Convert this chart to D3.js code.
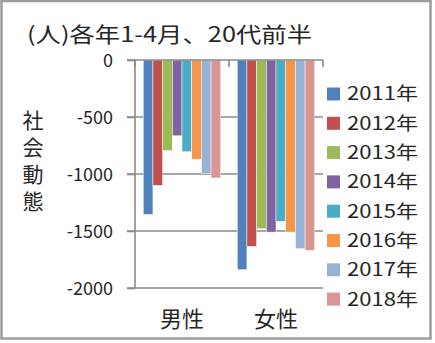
<!DOCTYPE html>
<html>
<head>
<meta charset="utf-8">
<script src="https://cdnjs.cloudflare.com/ajax/libs/d3/7.8.5/d3.min.js"></script>
<style>
  html, body { margin: 0; padding: 0; background: #fff; }
  svg { display: block; }
  text { font-family: "Noto Sans CJK JP", "Noto Sans", sans-serif; fill: #262626; }
</style>
</head>
<body>
<svg id="chart" width="435" height="343"></svg>
<script>
// 20代前半の社会動態（各年1-4月）
const categories = ["男性", "女性"];
const years = ["2011年", "2012年", "2013年", "2014年", "2015年", "2016年", "2017年", "2018年"];
const maleValues = [-1355, -1100, -795, -665, -805, -870, -995, -1035];
const femaleValues = [-1840, -1635, -1480, -1510, -1415, -1510, -1655, -1670];
const yTicks = [0, -500, -1000, -1500, -2000];
const colors = ["#4F81BD", "#C0504D", "#9BBB59", "#8064A2", "#4BACC6", "#F79646", "#95B3D7", "#D99694"];
const titleText = "(人)各年1-4月、20代前半";
const yAxisTitle = "社会動態";

const rows = categories.map((c, i) => ({
  category: c,
  values: years.map((y, j) => ({ year: y, value: (i === 0 ? maleValues : femaleValues)[j] }))
}));

const svg = d3.select("#chart");
const plot = { left: 135, right: 323, top: 60, bottom: 288 };

const x0 = d3.scaleBand().domain(categories).range([plot.left, plot.right]).paddingInner(0).paddingOuter(0);
const x1 = d3.scaleBand().domain(years).range([0, x0.bandwidth()]).paddingOuter(0.85).paddingInner(0);
const y = d3.scaleLinear().domain([-2000, 0]).range([plot.bottom, plot.top]);
const color = d3.scaleOrdinal().domain(years).range(colors);

// outer frame
svg.append("rect")
  .attr("x", 1.5).attr("y", 1).attr("width", 429).attr("height", 337.5)
  .attr("fill", "#fff").attr("stroke", "#9c9c9c").attr("stroke-width", 2.5);

// gridlines
svg.append("g").selectAll("line")
  .data(yTicks.filter(t => t !== 0))
  .join("line")
  .attr("x1", plot.left - 8).attr("x2", plot.right)
  .attr("y1", d => y(d)).attr("y2", d => y(d))
  .attr("stroke", "#8a8a8a").attr("stroke-width", 1.6);

// bars
const groups = svg.append("g").selectAll("g")
  .data(rows).join("g")
  .attr("transform", d => `translate(${x0(d.category)},0)`);
groups.selectAll("rect")
  .data(d => d.values).join("rect")
  .attr("x", d => x1(d.year))
  .attr("width", x1.bandwidth())
  .attr("y", y(0))
  .attr("height", d => y(d.value) - y(0))
  .attr("fill", d => color(d.year))
  .attr("stroke", "#fff").attr("stroke-width", 0.5);

// value axis
const yAxis = d3.axisLeft(y).tickValues(yTicks).tickSize(8).tickFormat(d => String(d)).tickPadding(14);
const yg = svg.append("g").attr("transform", `translate(${plot.left},0)`).call(yAxis);
yg.select(".domain").attr("stroke", "#8a8a8a").attr("stroke-width", 1.6).attr("d", `M0,${plot.top}V${plot.bottom}`);
yg.selectAll(".tick line").attr("stroke", "#8a8a8a").attr("stroke-width", 1.6);
yg.selectAll(".tick text")
  .attr("font-size", 18).attr("fill", "#262626")
  .style("font-family", "'Noto Sans CJK JP', sans-serif")
  .attr("dy", "0.36em");

// category axis at zero
const xAxis = d3.axisBottom(x0).tickSize(6).tickFormat("");
const xg = svg.append("g").attr("transform", `translate(0,${y(0)})`).call(xAxis);
xg.select(".domain").attr("stroke", "#8a8a8a").attr("stroke-width", 1.6)
  .attr("d", `M${plot.left - 8},0H${plot.right}`);
xg.selectAll(".tick").remove();
xg.selectAll(".cat-tick")
  .data([plot.left, x0(categories[1]), plot.right])
  .join("line").attr("class", "cat-tick")
  .attr("x1", d => d).attr("x2", d => d).attr("y1", 0).attr("y2", 7)
  .attr("stroke", "#8a8a8a").attr("stroke-width", 1.6);

// category labels below the plot
svg.append("g").selectAll("text")
  .data(categories).join("text")
  .attr("x", d => x0(d) + x0.bandwidth() / 2)
  .attr("y", 327)
  .attr("text-anchor", "middle")
  .attr("font-size", 22)
  .text(d => d);

// title
svg.append("text")
  .attr("x", 27).attr("y", 42)
  .attr("font-size", 21)
  .attr("textLength", 285).attr("lengthAdjust", "spacingAndGlyphs")
  .text(titleText);

// vertical axis title, written top to bottom
svg.append("text")
  .attr("x", 33).attr("y", 110)
  .attr("font-size", 21)
  .style("writing-mode", "vertical-rl")
  .style("text-orientation", "upright")
  .style("letter-spacing", "6px")
  .text(yAxisTitle);

// legend
const legend = svg.append("g").selectAll("g")
  .data(years).join("g")
  .attr("transform", (d, i) => `translate(327,${94 + i * 29.3})`);
legend.append("rect")
  .attr("x", 0).attr("y", -6.5).attr("width", 13).attr("height", 13)
  .attr("fill", d => color(d));
legend.append("text")
  .attr("x", 20).attr("y", 0).attr("dy", "0.36em")
  .attr("font-size", 18)
  .attr("textLength", 71).attr("lengthAdjust", "spacingAndGlyphs")
  .text(d => d);
</script>
</body>
</html>
